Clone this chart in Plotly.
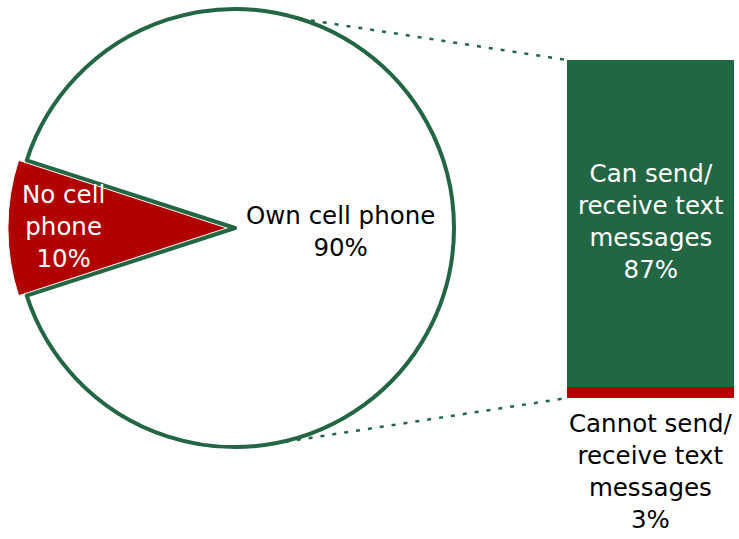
import math
import plotly.graph_objects as go

# ---- data ----
pie_labels = ["No cell phone", "Own cell phone"]
pie_values = [10, 90]
pie_text = ["No cell<br>phone<br>10%", "Own cell phone<br>90%"]

bar_labels = ["Cannot send/receive text messages", "Can send/receive text messages"]
bar_values = [3, 87]
bar_text = ["Cannot send/<br>receive text<br>messages<br>3%", "Can send/<br>receive text<br>messages<br>87%"]

# ---- style / layout constants ----
W, H = 739, 539
GREEN = "#236644"
RED = "#B10000"
FONT = "DejaVu Sans"
FS = 24.5

# pie geometry (pixels)
pcx, pcy, pr, pull = 235, 228, 219, 0.037
half = pr * (1 + pull)
pie_dom_x = [(pcx - half) / W, (pcx + half) / W]
pie_dom_y = [1 - pcy / H - half / H, 1 - pcy / H + half / H]

# bar geometry (pixels)
bar_left, bar_right, bar_top, bar_bottom = 567, 734, 60, 398
bx_dom = [bar_left / W, bar_right / W]
by_dom = [1 - bar_bottom / H, 1 - bar_top / H]
total = sum(bar_values)

fig = go.Figure()
fig.add_trace(go.Pie(
    labels=pie_labels, values=pie_values, sort=False, direction="clockwise",
    rotation=252, pull=[pull, 0],
    marker=dict(colors=[RED, "white"], line=dict(color=["white", GREEN], width=[1, 4])),
    textinfo="none", hoverinfo="label+percent", showlegend=False,
    domain=dict(x=pie_dom_x, y=pie_dom_y),
))
fig.add_trace(go.Bar(x=[0], y=[bar_values[0]], marker=dict(color=RED, line=dict(width=0)),
                     width=1, name=bar_labels[0], showlegend=False, xaxis="x", yaxis="y"))
fig.add_trace(go.Bar(x=[0], y=[bar_values[1]], marker=dict(color=GREEN, line=dict(width=0)),
                     width=1, name=bar_labels[1], showlegend=False, xaxis="x", yaxis="y"))


def circ(angle_deg):
    # point on the pie rim, angle measured clockwise from 12 o'clock
    a = math.radians(angle_deg)
    return (pcx + pr * math.sin(a)) / W, 1 - (pcy - pr * math.cos(a)) / H


top_start = circ(17)
bot_start = circ(170)
bar_top_paper = by_dom[0] + (total / total) * (by_dom[1] - by_dom[0])
shapes = [
    dict(type="line", xref="paper", yref="paper", x0=top_start[0], y0=top_start[1],
         x1=bx_dom[0], y1=bar_top_paper, line=dict(color=GREEN, width=2.5, dash="4px,8px")),
    dict(type="line", xref="paper", yref="paper", x0=bot_start[0], y0=bot_start[1],
         x1=bx_dom[0], y1=by_dom[0], line=dict(color=GREEN, width=2.5, dash="4px,8px")),
]

annotations = [
    dict(text=pie_text[1], x=340 / W, y=1 - 231 / H, xref="paper", yref="paper",
         xanchor="center", yanchor="middle",
         showarrow=False, font=dict(family=FONT, size=FS, color="black"), align="center"),
    dict(text=pie_text[0], x=63 / W, y=1 - 226 / H, xref="paper", yref="paper",
         xanchor="center", yanchor="middle",
         showarrow=False, font=dict(family=FONT, size=FS, color="white"), align="center"),
    dict(text=bar_text[1], x=0, y=bar_values[0] + bar_values[1] / 2, xref="x", yref="y",
         xanchor="center", yanchor="middle", yshift=2,
         showarrow=False, font=dict(family=FONT, size=FS, color="white"), align="center"),
    dict(text=bar_text[0], x=0, y=0, xref="x", yref="y", xanchor="center", yanchor="top",
         yshift=-9,
         showarrow=False, font=dict(family=FONT, size=FS, color="black"), align="center"),
]

fig.update_layout(
    width=W, height=H, margin=dict(l=0, r=0, t=0, b=0),
    paper_bgcolor="white", plot_bgcolor="white",
    barmode="stack", bargap=0,
    xaxis=dict(domain=bx_dom, range=[-0.5, 0.5], visible=False, fixedrange=True),
    yaxis=dict(domain=by_dom, range=[0, total], visible=False, fixedrange=True),
    shapes=shapes, annotations=annotations,
    font=dict(family=FONT),
)

fig.write_html("out.html", config={"displayModeBar": False},
               post_script="document.body.style.margin='0';")
